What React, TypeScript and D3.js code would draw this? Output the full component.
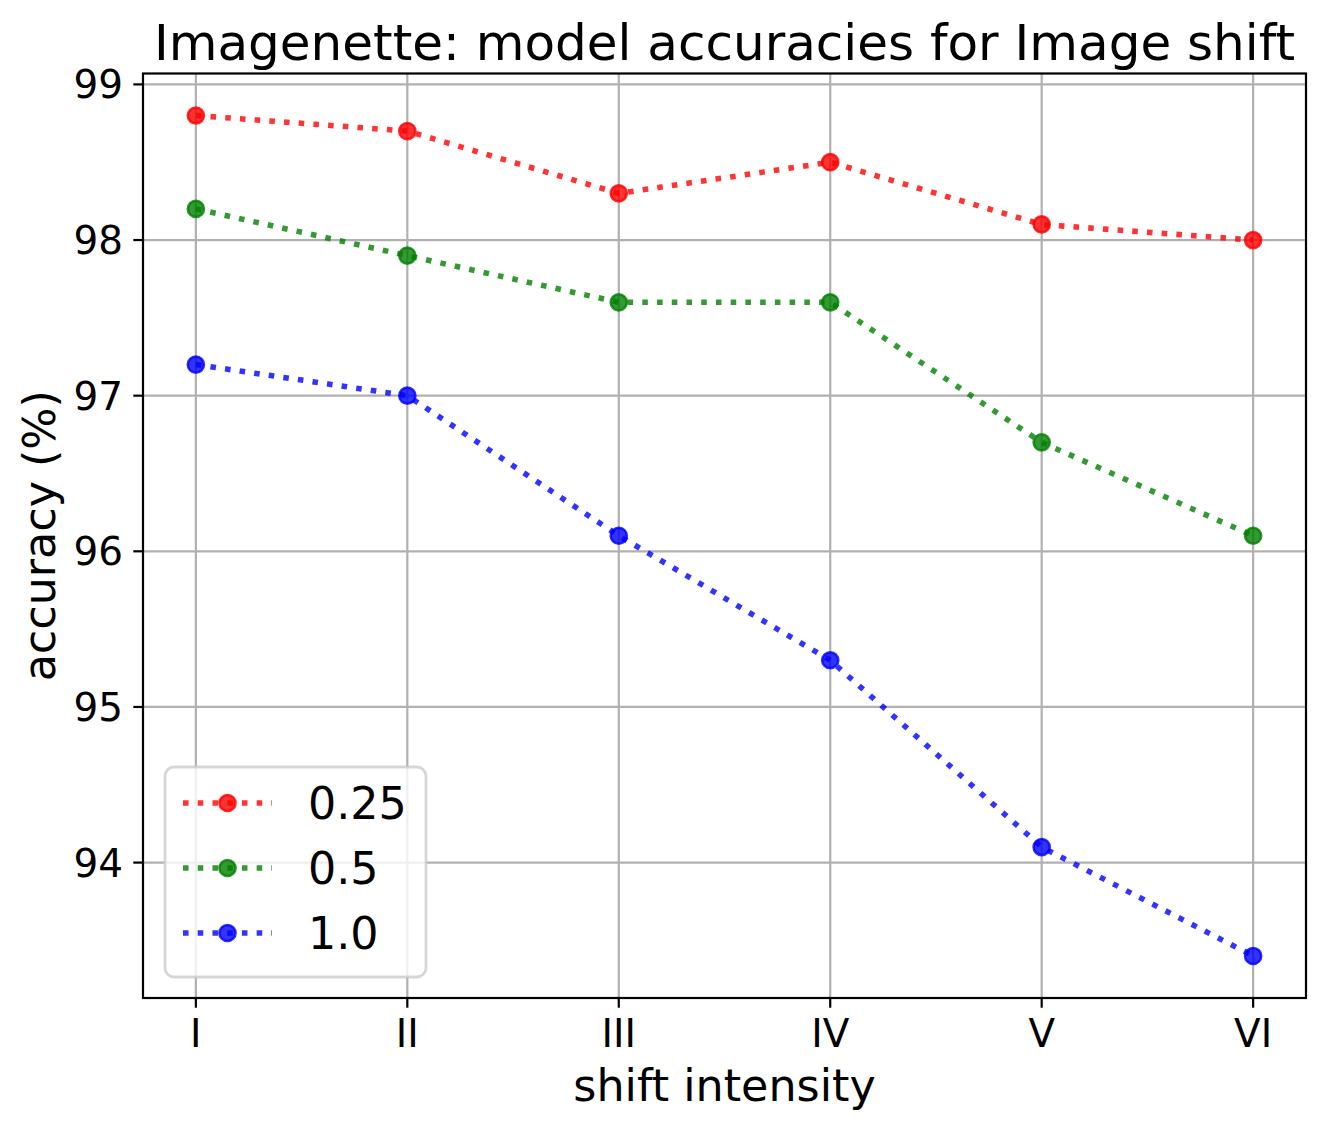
import React from 'react'
import * as d3 from 'd3'

// shift intensity levels
const categories = ['I', 'II', 'III', 'IV', 'V', 'VI']

// accuracy (%) per shift strength
const acc025 = [98.8, 98.7, 98.3, 98.5, 98.1, 98.0]
const acc05 = [98.2, 97.9, 97.6, 97.6, 96.7, 96.1]
const acc10 = [97.2, 97.0, 96.1, 95.3, 94.1, 93.4]

const seriesNames = ['0.25', '0.5', '1.0']
const seriesColors = ['#ff0000', '#008000', '#0000ff']
const yTicks = [94, 95, 96, 97, 98, 99]

const allSeries = [acc025, acc05, acc10]

const W = 1325
const H = 1130
const margin = { top: 73.5, right: 19, bottom: 132, left: 143 }
const font = '"DejaVu Sans", sans-serif'

export default function App() {
  const x0 = margin.left
  const x1 = W - margin.right
  const y0 = H - margin.bottom
  const y1 = margin.top

  const x = d3.scaleLinear().domain([-0.25, categories.length - 0.75]).range([x0, x1])

  const flat = allSeries.flat()
  const [lo, hi] = d3.extent(flat) as [number, number]
  const pad = (hi - lo) * 0.05
  const y = d3.scaleLinear().domain([lo - pad, hi + pad]).range([y0, y1])

  const line = d3
    .line<number>()
    .x((_, i) => x(i))
    .y((d) => y(d))

  // legend layout (matplotlib-ish, font 44.4px)
  const legX = 165
  const legTop = 767
  const legW = 261
  const legH = 210
  const rowY = (i: number) => 803 + i * 65

  return (
    <svg
      width={W}
      height={H}
      style={{ position: 'absolute', left: 0, top: 0, background: '#fff' }}
      fontFamily={font}
    >
      <rect width={W} height={H} fill="#fff" />

      {/* grid */}
      <g stroke="#b0b0b0" strokeWidth={2.2}>
        {categories.map((_, i) => (
          <line key={'gx' + i} x1={x(i)} x2={x(i)} y1={y1} y2={y0} />
        ))}
        {yTicks.map((t) => (
          <line key={'gy' + t} x1={x0} x2={x1} y1={y(t)} y2={y(t)} />
        ))}
      </g>

      {/* series */}
      {allSeries.map((s, k) => (
        <g key={'s' + k}>
          <path
            d={line(s) || ''}
            fill="none"
            stroke={seriesColors[k]}
            strokeOpacity={0.8}
            strokeWidth={5.56}
            strokeDasharray="5.56 9.17"
          />
          {s.map((v, i) => (
            <circle
              key={i}
              cx={x(i)}
              cy={y(v)}
              r={8.1}
              fill={seriesColors[k]}
              fillOpacity={0.8}
              stroke={seriesColors[k]}
              strokeOpacity={0.8}
              strokeWidth={2.5}
            />
          ))}
        </g>
      ))}

      {/* spines */}
      <rect x={x0} y={y1} width={x1 - x0} height={y0 - y1} fill="none" stroke="#000" strokeWidth={2.2} />

      {/* x ticks */}
      {categories.map((c, i) => (
        <g key={'xt' + i}>
          <line x1={x(i)} x2={x(i)} y1={y0} y2={y0 + 9.7} stroke="#000" strokeWidth={2.2} />
          <text x={x(i)} y={1047} textAnchor="middle" fontSize={38.9} fill="#000">
            {c}
          </text>
        </g>
      ))}

      {/* y ticks */}
      {yTicks.map((t) => (
        <g key={'yt' + t}>
          <line x1={x0 - 9.7} x2={x0} y1={y(t)} y2={y(t)} stroke="#000" strokeWidth={2.2} />
          <text x={123} y={y(t) + 14} textAnchor="end" fontSize={38.9} fill="#000">
            {t}
          </text>
        </g>
      ))}

      {/* labels */}
      <text x={(x0 + x1) / 2} y={1101} textAnchor="middle" fontSize={44.4} fill="#000">
        shift intensity
      </text>
      <text
        transform={`translate(55,${(y0 + y1) / 2}) rotate(-90)`}
        textAnchor="middle"
        fontSize={44.4}
        fill="#000"
      >
        accuracy (%)
      </text>
      <text x={(x0 + x1) / 2} y={60} textAnchor="middle" fontSize={50} fill="#000">
        Imagenette: model accuracies for Image shift
      </text>

      {/* legend */}
      <rect
        x={legX}
        y={legTop}
        width={legW}
        height={legH}
        rx={9}
        fill="#fff"
        fillOpacity={0.8}
        stroke="#cccccc"
        strokeOpacity={0.8}
        strokeWidth={2.8}
      />
      {seriesNames.map((name, k) => (
        <g key={'lg' + k}>
          <line
            x1={183}
            x2={272}
            y1={rowY(k)}
            y2={rowY(k)}
            stroke={seriesColors[k]}
            strokeOpacity={0.8}
            strokeWidth={5.56}
            strokeDasharray="5.56 9.17"
          />
          <circle
            cx={227.5}
            cy={rowY(k)}
            r={8.1}
            fill={seriesColors[k]}
            fillOpacity={0.8}
            stroke={seriesColors[k]}
            strokeOpacity={0.8}
            strokeWidth={2.5}
          />
          <text x={308} y={rowY(k) + 16} fontSize={44.4} fill="#000">
            {name}
          </text>
        </g>
      ))}
    </svg>
  )
}
